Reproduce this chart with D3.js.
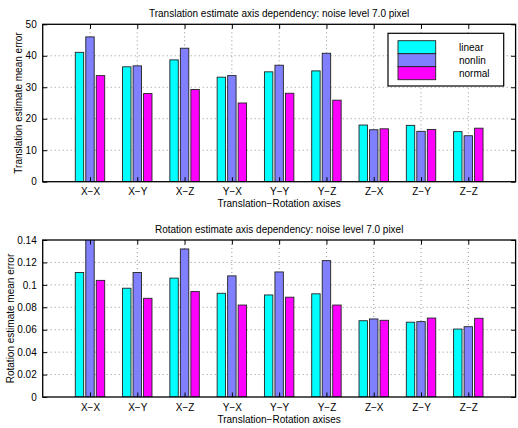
<!DOCTYPE html>
<html>
<head>
<meta charset="utf-8">
<script src="https://cdn.jsdelivr.net/npm/d3@7"></script>
<style>
  body { margin: 0; background: #fff; }
  text { font-family: "Liberation Sans", Arial, sans-serif; fill: #000; }
</style>
</head>
<body>
<svg id="chart" width="518" height="428"></svg>
<script>
// Categories and series
const axisPairs = ["X\u2212X", "X\u2212Y", "X\u2212Z", "Y\u2212X", "Y\u2212Y", "Y\u2212Z", "Z\u2212X", "Z\u2212Y", "Z\u2212Z"];
const seriesNames = ["linear", "nonlin", "normal"];
const seriesColors = ["#00ffff", "#8080ff", "#ff00ff"];

// Translation estimate mean error
const transLinear = [41.1, 36.5, 38.7, 33.2, 34.9, 35.2, 18.0, 17.9, 15.9];
const transNonlin = [46.0, 36.8, 42.4, 33.7, 37.0, 40.8, 16.5, 16.0, 14.6];
const transNormal = [33.7, 28.0, 29.3, 25.0, 28.1, 25.9, 16.8, 16.6, 17.0];

// Rotation estimate mean error
const rotLinear = [0.111, 0.097, 0.106, 0.0925, 0.091, 0.092, 0.068, 0.0667, 0.0606];
const rotNonlin = [0.142, 0.111, 0.132, 0.108, 0.1115, 0.1216, 0.0696, 0.0672, 0.0627];
const rotNormal = [0.104, 0.088, 0.094, 0.082, 0.089, 0.082, 0.0684, 0.0704, 0.0702];

const transTicks = [0, 10, 20, 30, 40, 50];
const rotTicks = [0, 0.02, 0.04, 0.06, 0.08, 0.1, 0.12, 0.14];

const svg = d3.select('#chart');
const left = 42.7, right = 515.6;

const drawPanel = (opts) => {
    const g = svg.append('g');
    const x = d3.scaleLinear().domain([0, 10]).range([left, right]);
    const y = d3.scaleLinear().domain(opts.domain).range([opts.bottom, opts.top]);
    const tickLen = 4.5;

    // grid
    g.append('g').selectAll('line.gx')
        .data(d3.range(1, 10))
        .enter().append('line')
            .attr('x1', d => x(d)).attr('x2', d => x(d))
            .attr('y1', opts.top).attr('y2', opts.bottom)
            .attr('stroke', '#666').attr('stroke-width', 0.7)
            .attr('stroke-dasharray', '1,3');
    g.append('g').selectAll('line.gy')
        .data(opts.ticks.slice(1, -1))
        .enter().append('line')
            .attr('x1', left).attr('x2', right)
            .attr('y1', d => y(d)).attr('y2', d => y(d))
            .attr('stroke', '#666').attr('stroke-width', 0.7)
            .attr('stroke-dasharray', '1,3');

    // bars
    const clipId = 'clip' + opts.id;
    svg.append('clipPath').attr('id', clipId)
        .append('rect')
            .attr('x', left).attr('y', opts.top)
            .attr('width', right - left).attr('height', opts.bottom - opts.top);

    const offsets = [-0.2222, 0, 0.2222];
    const barW = 0.178;
    const bars = g.append('g').attr('clip-path', 'url(#' + clipId + ')');
    opts.series.forEach((vals, s) => {
        bars.selectAll('rect.s' + s)
            .data(vals)
            .enter().append('rect')
                .attr('x', (d, i) => x(i + 1 + offsets[s] - barW / 2))
                .attr('width', x(barW) - x(0))
                .attr('y', d => y(d))
                .attr('height', d => opts.bottom - y(d))
                .attr('fill', seriesColors[s])
                .attr('stroke', '#222')
                .attr('stroke-width', 0.9);
    });

    // axes with inward ticks
    g.append('g')
        .attr('transform', 'translate(0,' + opts.bottom + ')')
        .call(d3.axisBottom(x).tickValues(d3.range(1, 10)).tickSize(-tickLen).tickPadding(2).tickFormat((d, i) => axisPairs[i]))
        .call(a => a.select('.domain').remove())
        .call(a => a.selectAll('text').attr('dy', '1.15em').attr('font-size', '10px').attr('font-family', '"Liberation Sans", Arial, sans-serif'));
    g.append('g')
        .attr('transform', 'translate(0,' + opts.top + ')')
        .call(d3.axisTop(x).tickValues(d3.range(1, 10)).tickSize(-tickLen).tickFormat(''))
        .call(a => a.select('.domain').remove());
    g.append('g')
        .attr('transform', 'translate(' + left + ',0)')
        .call(d3.axisLeft(y).tickValues(opts.ticks).tickSize(-tickLen).tickPadding(6).tickFormat(d3.format('')))
        .call(a => a.select('.domain').remove())
        .call(a => a.selectAll('text').attr('font-size', '10px').attr('font-family', '"Liberation Sans", Arial, sans-serif'));
    g.append('g')
        .attr('transform', 'translate(' + right + ',0)')
        .call(d3.axisRight(y).tickValues(opts.ticks).tickSize(-tickLen).tickFormat(''))
        .call(a => a.select('.domain').remove());

    g.append('rect')
        .attr('x', left).attr('y', opts.top)
        .attr('width', right - left).attr('height', opts.bottom - opts.top)
        .attr('fill', 'none').attr('stroke', '#000').attr('stroke-width', 1.3);

    // titles
    g.append('text')
        .attr('x', (left + right) / 2).attr('y', opts.top - 7.5)
        .attr('text-anchor', 'middle').attr('font-size', '10px')
        .text(opts.title);
    g.append('text')
        .attr('x', (left + right) / 2).attr('y', opts.bottom + 25.5)
        .attr('text-anchor', 'middle').attr('font-size', '10px')
        .text('Translation\u2212Rotation axises');
    g.append('text')
        .attr('transform', 'translate(' + opts.labelX + ',' + ((opts.top + opts.bottom) / 2) + ') rotate(-90)')
        .attr('text-anchor', 'middle').attr('font-size', '10px')
        .text(opts.ylabel);
};

drawPanel({
    id: 'T', top: 24.3, bottom: 181.7, domain: [0, 50], ticks: transTicks,
    series: [transLinear, transNonlin, transNormal],
    title: 'Translation estimate axis dependency: noise level 7.0 pixel',
    ylabel: 'Translation estimate mean error', labelX: 22
});

drawPanel({
    id: 'R', top: 240, bottom: 397, domain: [0, 0.14], ticks: rotTicks,
    series: [rotLinear, rotNonlin, rotNormal],
    title: 'Rotation estimate axis dependency: noise level 7.0 pixel',
    ylabel: 'Rotation estimate mean error', labelX: 14
});

// legend (top panel)
const legend = svg.append('g');
legend.append('rect')
    .attr('x', 388).attr('y', 33.3).attr('width', 115.7).attr('height', 52.7)
    .attr('fill', '#fff').attr('stroke', '#000').attr('stroke-width', 1.2);
seriesNames.forEach((name, i) => {
    legend.append('rect')
        .attr('x', 398).attr('y', 40.7 + i * 13)
        .attr('width', 37.7).attr('height', 13)
        .attr('fill', seriesColors[i]).attr('stroke', '#222').attr('stroke-width', 0.9);
    legend.append('text')
        .attr('x', 459).attr('y', 51 + i * 13)
        .attr('font-size', '10px')
        .text(name);
});
</script>
</body>
</html>
